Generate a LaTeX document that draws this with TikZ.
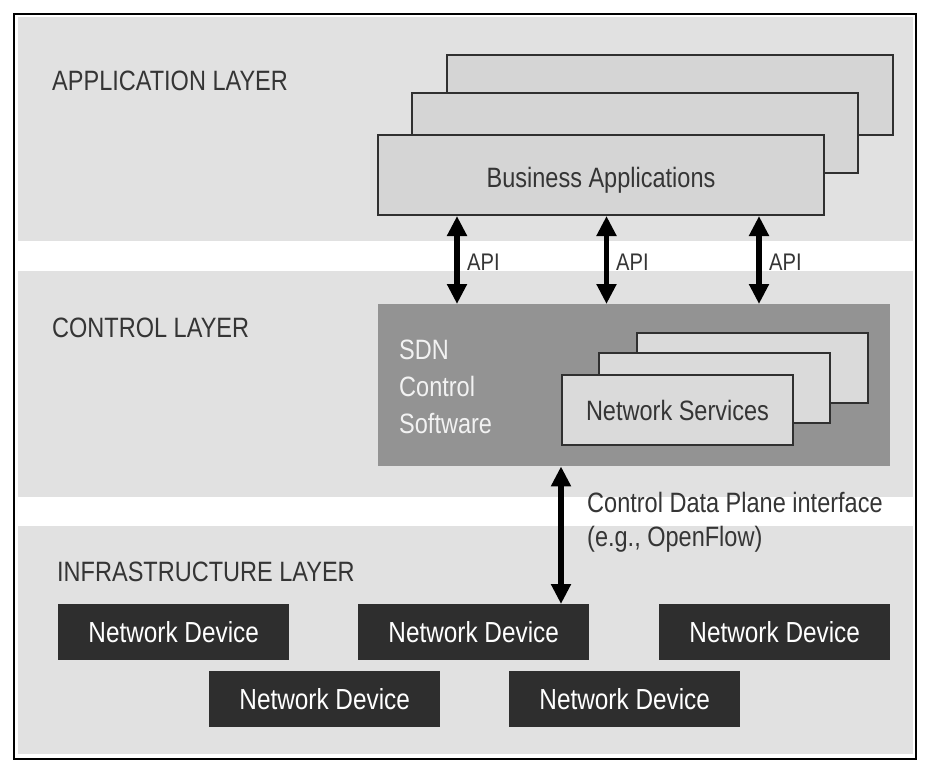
\documentclass[tikz,border=0pt]{standalone}
\usepackage{fontspec}
\setmainfont{Liberation Sans}[FakeStretch=0.84]
\usetikzlibrary{arrows.meta}
\definecolor{bandgrey}{HTML}{E1E1E1}
\definecolor{appfill}{HTML}{D5D5D5}
\definecolor{ctrlfill}{HTML}{939393}
\definecolor{svcfill}{HTML}{DADADA}
\definecolor{devfill}{HTML}{2E2E2E}
\definecolor{txtgrey}{HTML}{353535}
\definecolor{edgegrey}{HTML}{303030}
\newcommand\fsz[2]{\fontsize{#1pt}{#2pt}\selectfont}
\begin{document}
\begin{tikzpicture}[x=1pt,y=-1pt,
  band/.style={fill=bandgrey},
  layerlabel/.style={anchor=west, inner sep=0pt, text=txtgrey, font=\fsz{28}{32}},
  appbox/.style={draw=edgegrey, line width=2pt, fill=appfill, anchor=north west,
    minimum width=446pt, minimum height=80pt, inner sep=0pt, text=txtgrey,
    font=\fsz{28}{32}, text height=24pt, text depth=0pt},
  ctrlbox/.style={fill=ctrlfill, anchor=north west, minimum width=512pt,
    minimum height=162pt, inner sep=0pt},
  svcbox/.style={draw=edgegrey, line width=2pt, fill=svcfill, anchor=north west,
    minimum width=231pt, minimum height=70pt, inner sep=0pt, text=txtgrey,
    font=\fsz{28}{32}, text height=20pt, text depth=0pt},
  devbox/.style={fill=devfill, anchor=north west, minimum width=231pt,
    minimum height=56pt, inner sep=0pt, text=white, font=\fsz{29}{32},
    text height=20.8pt, text depth=0pt},
  dblarrow/.style={line width=5.5pt, draw=black,
    {Triangle[length=20pt,width=19pt]}-{Triangle[length=20pt,width=19pt]}},
  arrowlabel/.style={anchor=west, inner sep=0pt, text=txtgrey, font=\fsz{24}{28}}
]
\useasboundingbox (0,0) rectangle (931,774);
\fill[white] (0,0) rectangle (931,774);
% layer bands
\fill[band] (18,17) rectangle (913,241);
\fill[band] (18,271) rectangle (913,497);
\fill[band] (18,526) rectangle (913,754);
\draw[line width=1.5pt] (14,14) rectangle (916,759);

% layer labels
\node[layerlabel] (applabel) at (52,81) {APPLICATION LAYER};
\node[layerlabel] (ctrllabel) at (52,328) {CONTROL LAYER};
\node[layerlabel] (infralabel) at (57,572) {INFRASTRUCTURE LAYER};

% business applications stack
\node[appbox] (app3) at (446,54) {};
\node[appbox] (app2) at (411,92) {};
\node[appbox] (app1) at (377,134) {Business Applications};

% control software
\node[ctrlbox] (ctrl) at (378,304) {};
\node[anchor=west, inner sep=0pt, align=left, text=white!95!black,
  font=\fsz{28}{37}] (sdn) at (399,387) {SDN\\Control\\Software};

% network services stack
\node[svcbox] (svc3) at (636,332) {};
\node[svcbox] (svc2) at (598,352) {};
\node[svcbox] (svc1) at (561,374) {Network Services};

% network devices
\node[devbox] (dev1) at (58,604) {Network Device};
\node[devbox] (dev2) at (358,604) {Network Device};
\node[devbox] (dev3) at (659,604) {Network Device};
\node[devbox] (dev4) at (209,671) {Network Device};
\node[devbox] (dev5) at (509,671) {Network Device};

% API arrows
\draw[dblarrow] (457,0 |- app1.south) -- (457,0 |- ctrl.north);
\draw[dblarrow] (606.5,0 |- app1.south) -- (606.5,0 |- ctrl.north);
\draw[dblarrow] (759,0 |- app1.south) -- (759,0 |- ctrl.north);
\node[arrowlabel] (api1) at (467,262) {API};
\node[arrowlabel] (api2) at (616,262) {API};
\node[arrowlabel] (api3) at (769,262) {API};

% control data plane arrow
\draw[dblarrow] (561,0 |- ctrl.south) -- (561,0 |- dev2.north);
\node[anchor=west, inner sep=0pt, align=left, text=txtgrey,
  font=\fsz{28}{34}] (cdpi) at (587,522)
  {Control Data Plane interface\\(e.g., OpenFlow)};
\end{tikzpicture}
\end{document}
